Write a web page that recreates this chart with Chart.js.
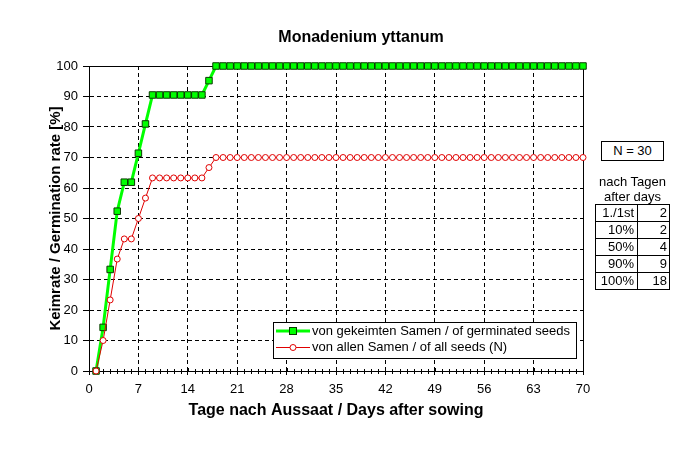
<!DOCTYPE html>
<html>
<head>
<meta charset="utf-8">
<script src="https://cdn.jsdelivr.net/npm/chart.js@4.4.0/dist/chart.umd.min.js"></script>
<style>
  html, body { margin: 0; padding: 0; background: #fff; }
  #wrap { position: relative; width: 700px; height: 450px; font-family: "Liberation Sans", Arial, sans-serif; font-size: 13px; color: #000; }
  #chart { position: absolute; left: 0; top: 0; }
  #nbox { position: absolute; left: 601px; top: 141px; width: 61px; height: 18px; border: 1px solid #000; text-align: center; line-height: 18px; background: #fff; }
  .cap { position: absolute; left: 595px; width: 75px; text-align: center; line-height: 15px; }
  #side { position: absolute; left: 595px; top: 204px; border-collapse: collapse; table-layout: fixed; }
  #side td { border: 1px solid #000; height: 16px; line-height: 16px; padding: 0 3px 0 0; text-align: right; white-space: nowrap; }
</style>
</head>
<body>
<div id="wrap">
  <canvas id="chart" width="700" height="450"></canvas>
  <div id="nbox"></div>
  <div class="cap" id="cap1" style="top:174px"></div>
  <div class="cap" id="cap2" style="top:189px"></div>
  <table id="side"><colgroup><col style="width:42px"><col style="width:32px"></colgroup><tbody id="sideBody"></tbody></table>
</div>
<script>
// ---------- data ----------
const chartTitle = "Monadenium yttanum";
const xTitle = "Tage nach Aussaat / Days after sowing";
const yTitle = "Keimrate / Germination rate [%]";
const seriesNames = ["von gekeimten Samen / of germinated seeds", "von allen Samen / of all seeds (N)"];

const days = [
  1, 2, 3, 4, 5, 6, 7, 8, 9, 10,
  11, 12, 13, 14, 15, 16, 17, 18, 19, 20,
  21, 22, 23, 24, 25, 26, 27, 28, 29, 30,
  31, 32, 33, 34, 35, 36, 37, 38, 39, 40,
  41, 42, 43, 44, 45, 46, 47, 48, 49, 50,
  51, 52, 53, 54, 55, 56, 57, 58, 59, 60,
  61, 62, 63, 64, 65, 66, 67, 68, 69, 70
];

// % of germinated seeds
const germinated = [
  0, 14.3, 33.3, 52.4, 61.9, 61.9, 71.4, 81.0, 90.5, 90.5,
  90.5, 90.5, 90.5, 90.5, 90.5, 90.5, 95.2, 100, 100, 100,
  100, 100, 100, 100, 100, 100, 100, 100, 100, 100,
  100, 100, 100, 100, 100, 100, 100, 100, 100, 100,
  100, 100, 100, 100, 100, 100, 100, 100, 100, 100,
  100, 100, 100, 100, 100, 100, 100, 100, 100, 100,
  100, 100, 100, 100, 100, 100, 100, 100, 100, 100
];

// % of all seeds (N)
const allSeeds = [
  0, 10, 23.3, 36.7, 43.3, 43.3, 50, 56.7, 63.3, 63.3,
  63.3, 63.3, 63.3, 63.3, 63.3, 63.3, 66.7, 70, 70, 70,
  70, 70, 70, 70, 70, 70, 70, 70, 70, 70,
  70, 70, 70, 70, 70, 70, 70, 70, 70, 70,
  70, 70, 70, 70, 70, 70, 70, 70, 70, 70,
  70, 70, 70, 70, 70, 70, 70, 70, 70, 70,
  70, 70, 70, 70, 70, 70, 70, 70, 70, 70
];

const xMax = 70, xStep = 7;
const yMax = 100, yStep = 10;

// side box
const nText = "N = 30";
const sideCaption = ["nach Tagen", "after days"];
const sideLabels = ["1./1st", "10%", "50%", "90%", "100%"];
const sideDays = [2, 2, 4, 9, 18];

const FONT = "'Liberation Sans', Arial, sans-serif";
const GREEN = "#00ff00", GREEN_EDGE = "#0a3a00", RED = "#e00000";

// ---------- side table ----------
document.getElementById("nbox").textContent = nText;
document.getElementById("cap1").textContent = sideCaption[0];
document.getElementById("cap2").textContent = sideCaption[1];
const body = document.getElementById("sideBody");
sideLabels.forEach((lab, i) => {
  body.innerHTML += `<tr><td>${lab}</td><td style="padding-right:2px">${sideDays[i]}</td></tr>`;
});

// ---------- plugins ----------
const framePlugin = {
  id: "frame",
  beforeDatasetsDraw(chart) {
    const { ctx, chartArea: a, scales: { x } } = chart;
    ctx.save();
    ctx.strokeStyle = "#000";
    ctx.lineWidth = 1;
    ctx.strokeRect(Math.round(a.left) + 0.5, Math.round(a.top) + 0.5, Math.round(a.right - a.left), Math.round(a.bottom - a.top));
    // day ticks across the x axis
    ctx.beginPath();
    for (let d = 1; d < xMax; d++) {
      const px = Math.round(x.getPixelForValue(d)) + 0.5;
      const major = d % xStep === 0;
      ctx.moveTo(px, a.bottom - (major ? 3 : 2));
      ctx.lineTo(px, a.bottom + (major ? 0 : 3));
    }
    ctx.stroke();
    ctx.restore();
  },
  afterDraw(chart) {
    const { ctx } = chart;
    ctx.save();
    // title
    ctx.fillStyle = "#000";
    ctx.font = "bold 16px " + FONT;
    ctx.textAlign = "center";
    ctx.textBaseline = "middle";
    ctx.fillText(chartTitle, 361, 38);

    // legend
    const lx = 273, ly = 322, lw = 303, lh = 36;
    ctx.fillStyle = "#fff";
    ctx.fillRect(lx, ly, lw, lh);
    ctx.strokeStyle = "#000";
    ctx.lineWidth = 1;
    ctx.strokeRect(lx + 0.5, ly + 0.5, lw, lh);
    const rows = [331, 347];
    ctx.font = "13px " + FONT;
    ctx.textAlign = "left";
    // green sample
    ctx.strokeStyle = GREEN; ctx.lineWidth = 3;
    ctx.beginPath(); ctx.moveTo(276, rows[0]); ctx.lineTo(310, rows[0]); ctx.stroke();
    ctx.fillStyle = GREEN; ctx.fillRect(290, rows[0] - 3, 6, 6);
    ctx.strokeStyle = GREEN_EDGE; ctx.lineWidth = 1;
    ctx.strokeRect(289.5, rows[0] - 3.5, 7, 7);
    // red sample
    ctx.strokeStyle = RED; ctx.lineWidth = 1;
    ctx.beginPath(); ctx.moveTo(276, rows[1] + 0.5); ctx.lineTo(310, rows[1] + 0.5); ctx.stroke();
    ctx.fillStyle = "#fff";
    ctx.beginPath(); ctx.arc(293, rows[1] + 0.5, 3, 0, Math.PI * 2); ctx.fill(); ctx.stroke();
    ctx.fillStyle = "#000";
    ctx.fillText(seriesNames[0], 312, rows[0]);
    ctx.fillText(seriesNames[1], 312, rows[1]);
    ctx.restore();
  }
};

// ---------- chart ----------
new Chart(document.getElementById("chart"), {
  type: "line",
  data: {
    labels: days,
    datasets: [
      {
        label: seriesNames[0],
        data: germinated,
        borderColor: GREEN,
        borderWidth: 3,
        pointStyle: "rect",
        pointRadius: 4.6,
        pointBackgroundColor: GREEN,
        pointBorderColor: GREEN_EDGE,
        pointBorderWidth: 1,
        tension: 0,
        clip: false,
        order: 1
      },
      {
        label: seriesNames[1],
        data: allSeeds,
        borderColor: RED,
        borderWidth: 1,
        pointStyle: "circle",
        pointRadius: 3,
        pointBackgroundColor: "#fff",
        pointBorderColor: RED,
        pointBorderWidth: 1,
        tension: 0,
        clip: false,
        order: 0
      }
    ]
  },
  options: {
    responsive: false,
    animation: false,
    layout: { padding: { left: 0, right: 117, top: 66, bottom: 0 } },
    plugins: { legend: { display: false }, title: { display: false }, tooltip: { enabled: false } },
    scales: {
      x: {
        type: "linear",
        min: 0, max: xMax,
        afterFit(scale) { scale.height = 79; },
        ticks: { stepSize: xStep, color: "#000", font: { family: FONT, size: 13 }, padding: 7, maxRotation: 0 },
        grid: { color: "#000", lineWidth: 1, tickLength: 4 },
        border: { color: "#000", width: 1, dash: [4, 3] },
        title: { display: true, text: xTitle, color: "#000", font: { family: FONT, size: 16, weight: "bold" }, padding: { top: 0, bottom: 30 } }
      },
      y: {
        min: 0, max: yMax,
        afterFit(scale) { scale.width = 89; },
        ticks: { stepSize: yStep, color: "#000", font: { family: FONT, size: 13 }, padding: 5 },
        grid: { color: "#000", lineWidth: 1, tickLength: 6 },
        border: { color: "#000", width: 1, dash: [4, 3] },
        title: { display: true, text: yTitle, color: "#000", font: { family: FONT, size: 15, weight: "bold" }, padding: { top: 47, bottom: 0 } }
      }
    }
  },
  plugins: [framePlugin]
});
</script>
</body>
</html>
